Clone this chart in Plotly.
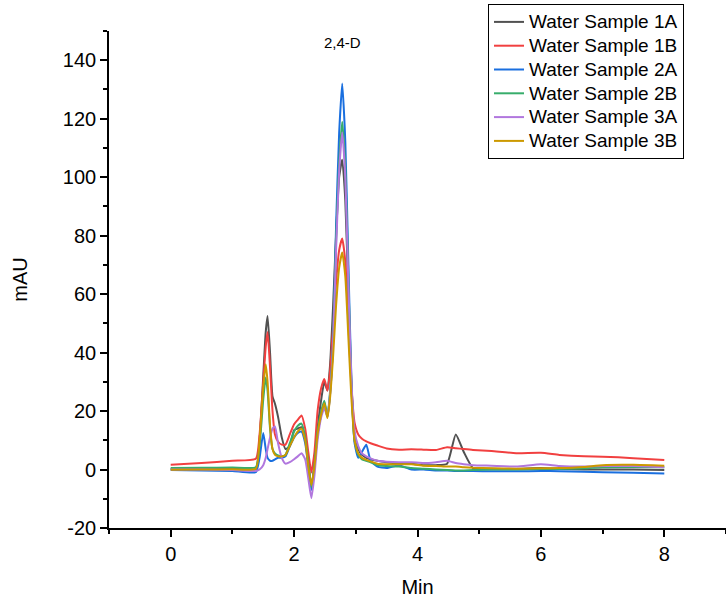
import plotly.graph_objects as go

# retention time (min), shared by all runs
time_min = [0.0, 0.5, 1.0, 1.38, 1.44, 1.5, 1.54, 1.57, 1.61, 1.65, 1.69, 1.74, 1.8, 1.86, 1.93,
            2.0, 2.06, 2.12, 2.18, 2.23, 2.28, 2.33, 2.38, 2.44, 2.49, 2.54, 2.58, 2.63, 2.68, 2.73,
            2.78, 2.83, 2.88, 2.93, 2.98, 3.04, 3.1, 3.17, 3.24, 3.35, 3.5, 3.7, 3.9, 4.1, 4.3,
            4.48, 4.62, 4.75, 4.9, 5.2, 5.6, 6.0, 6.3, 6.7, 7.0, 7.5, 8.0]

# absorbance (mAU)
sample_1a = [0.2, 0.2, 0.3, 0.3, 10, 32, 47, 52.5, 40, 25, 22.5, 18, 11, 7, 8,
             13.5, 14, 14.5, 11, 3, -6, 2, 14, 24, 30, 27, 35, 55, 80, 100,
             106, 92, 60, 28, 12, 7, 5, 4, 3.5, 3, 2.5, 2, 2, 1.5, 1.5,
             2, 12, 6, 0.5, 0.3, 0.2, 0.5, 0.2, 0, 0, 0, -0.2]
sample_1b = [1.6, 2.2, 3.0, 3.7, 12, 30, 42, 47, 35, 20, 12, 9.5, 8.5, 8.5, 12,
             15.5, 17, 18.5, 14, 6, -1, 6, 20, 28, 31, 27, 33, 48, 64, 75,
             79, 71, 50, 28, 16, 12, 10.5, 9.6, 9, 8.2, 7.2, 6.8, 6.9, 6.8, 6.7,
             7.6, 7.3, 7, 6.7, 6.3, 5.6, 5.7, 5, 4.5, 4.4, 3.9, 3.3]
sample_2a = [-0.2, -0.3, -0.5, -0.9, 4, 12.5, 7, 4, 3, 3, 3.5, 4, 4, 4.5, 8,
             11, 12.5, 13, 9, 1, -7, 1, 12, 19, 23, 18, 25, 43, 83, 115,
             132, 112, 70, 30, 9, 4, 6, 8.5, 3, 1, 0.5, 1.5, 0, 0, -0.3,
             -0.3, -0.5, -0.5, -0.5, -0.6, -0.6, -0.5, -0.6, -0.8, -0.9, -1.1, -1.4]
sample_2b = [0.5, 0.6, 0.7, 0.8, 8, 24, 31.5, 27, 14, 7, 5.5, 4.8, 4.5, 5, 9,
             13, 15, 15.7, 11, 2, -6, 1, 13, 20, 23.5, 18, 26, 42, 78, 105,
             119, 103, 65, 28, 10, 5, 3.5, 3, 2.5, 1.5, 1.2, 1, 0.5, 0.3, 0,
             -0.2, -0.3, -0.3, -0.2, 0, 0, 0.2, 0.2, 0.4, 0.8, 0.9, 0.8]
sample_3a = [0, 0, -0.2, -0.5, 0, 1.5, 4, 7, 11, 14, 14.7, 9, 4, 2, 2.5,
             3.5, 4.5, 5.6, 3.5, -3, -9.8, -2, 10, 18, 21, 18, 25, 42, 75, 102,
             115.4, 100, 63, 30, 13, 8, 5.5, 4.5, 3.8, 3, 2.7, 2.5, 2.5, 2.2, 2.5,
             3, 2.2, 1.8, 1.5, 1.3, 1, 1.8, 1.2, 1, 1.2, 1.2, 0.8]
sample_3b = [-0.1, 0, 0.1, 0.3, 10, 28, 36, 30, 15, 7, 5, 4.5, 4.5, 5, 8,
             11, 13, 14, 10, 1, -5.3, 1, 12, 19, 22.7, 17.6, 24, 38, 56, 69,
             74.2, 66, 45, 24, 10, 5.5, 4, 3.3, 2.8, 2, 1.8, 1.8, 1.8, 1.3, 1.2,
             1, 1, 0.8, 0.6, 0.4, 0.3, 0.4, 0.5, 0.9, 1.5, 1.6, 1.3]

names = ['Water Sample 1A', 'Water Sample 1B', 'Water Sample 2A',
         'Water Sample 2B', 'Water Sample 3A', 'Water Sample 3B']
series = [sample_1a, sample_1b, sample_2a, sample_2b, sample_3a, sample_3b]
colors = ['#515151', '#F14040', '#1A6FDF', '#37AD6B', '#B177DE', '#CC9900']

y_ticks = [-20, 0, 20, 40, 60, 80, 100, 120, 140]
y_labels = ['-20', '0', '20', '40', '60', '80', '100', '120', '140']

fig = go.Figure()
for name, vals, col in zip(names, series, colors):
    # bigger text than the legend font keeps the rows tight like the original
    fig.add_trace(go.Scatter(x=time_min, y=vals, mode='lines',
                             name="<span style='font-size:19px'>" + name + "</span>",
                             line=dict(color=col, width=2, shape='spline', smoothing=0.5)))

fig.add_annotation(x=2.78, y=146, text='2,4-D', showarrow=False,
                   font=dict(size=15, color='black'))

axis_style = dict(showline=True, linecolor='black', linewidth=1.6, ticks='outside',
                  ticklen=7, tickwidth=1.6, tickcolor='black', showgrid=False,
                  zeroline=False, automargin=False,
                  tickfont=dict(size=20, color='black'),
                  title_font=dict(size=20, color='black'))

fig.update_xaxes(range=[-1, 9], dtick=2, tick0=0, title_text='Min', title_standoff=18,
                 minor=dict(ticks='outside', ticklen=4, dtick=1, tickcolor='black'),
                 **axis_style)
fig.update_yaxes(range=[-20, 150], tickvals=y_ticks, ticktext=y_labels,
                 title_text='mAU', title_standoff=30,
                 minor=dict(ticks='outside', ticklen=4, dtick=10, tickcolor='black'),
                 **axis_style)

fig.update_layout(
    width=726, height=598,
    margin=dict(l=109, r=0, t=31, b=70, autoexpand=False),
    plot_bgcolor='white', paper_bgcolor='white',
    font=dict(family='Liberation Sans, Arial', color='black'),
    legend=dict(x=(488 - 109) / 617, y=(528 - 4) / 497,
                xanchor='left', yanchor='top',
                bordercolor='black', borderwidth=1, bgcolor='white',
                font=dict(size=16), tracegroupgap=0),
)

fig.write_html("out.html", config={'displayModeBar': False},
               post_script="document.body.style.margin = '0';")
